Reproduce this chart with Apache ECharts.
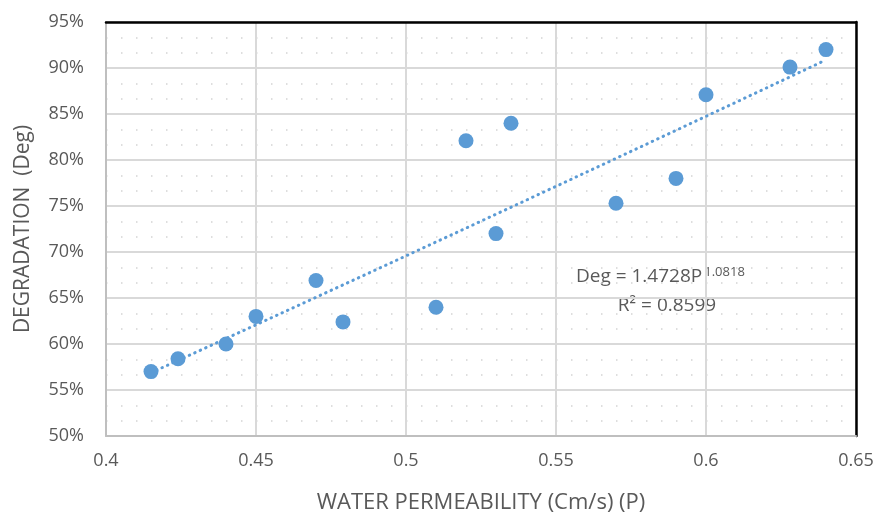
<!DOCTYPE html>
<html>
<head>
<meta charset="utf-8">
<script src="https://cdn.jsdelivr.net/npm/echarts@6/dist/echarts.min.js"></script>
<style>
  html, body { margin: 0; padding: 0; background: #ffffff; }
  #chart { width: 880px; height: 519px; }
</style>
</head>
<body>
<div id="chart"></div>
<script>
// Water permeability (cm/s) vs degradation (%)
const permeability = [0.415, 0.424, 0.44, 0.45, 0.47, 0.479, 0.51, 0.52, 0.53, 0.535, 0.57, 0.59, 0.60, 0.628, 0.64];
const degradation  = [57.0, 58.4, 60.0, 63.0, 66.9, 62.4, 64.0, 82.1, 72.0, 84.0, 75.3, 78.0, 87.1, 90.1, 92.0];

// Power trendline: Deg = a * P^b, with R²
const trendA = 1.4728;
const trendB = 1.0818;
const trendR2 = 0.8599;

const xTicks = { min: 0.4, max: 0.65, step: 0.05 };
const yTicks = { min: 50, max: 95, step: 5 };

const points = permeability.map((p, i) => [p, degradation[i]]);

// Trendline drawn from the stated fit, over the data's range
const pMin = Math.min(...permeability);
const pMax = Math.max(...permeability);
const trend = [];
for (let i = 0; i <= 40; i++) {
  const p = pMin + (pMax - pMin) * i / 40;
  trend.push([p, trendA * Math.pow(p, trendB) * 100]);
}

const textColor = '#595959';
const fontFamily = '"Open Sans", "Noto Sans", sans-serif';
const blue = '#5b9bd5';

const chart = echarts.init(document.getElementById('chart'), null, { renderer: 'canvas' });

chart.setOption({
  backgroundColor: '#ffffff',
  animation: false,
  grid: { left: 106, right: 24, top: 22, bottom: 81 },
  xAxis: [{
    type: 'value',
    min: xTicks.min, max: xTicks.max, interval: xTicks.step,
    name: 'WATER PERMEABILITY (Cm/s) (P)',
    nameLocation: 'middle',
    nameGap: 56,
    nameTextStyle: { color: textColor, fontSize: 22, fontFamily },
    axisLine: { show: true, lineStyle: { color: '#bfbfbf', width: 2 } },
    axisTick: { show: false },
    axisLabel: { color: textColor, fontSize: 18, fontFamily, margin: 16,
      formatter: v => String(Math.round(v * 100) / 100) },
    splitLine: { show: true, lineStyle: { color: '#d9d9d9', width: 2 } }
  }, {
    type: 'value', position: 'top',
    min: xTicks.min, max: xTicks.max, interval: xTicks.step,
    axisLine: { show: true, onZero: false, lineStyle: { color: '#000000', width: 2.5 } },
    axisTick: { show: false }, axisLabel: { show: false }, splitLine: { show: false }
  }],
  yAxis: [{
    type: 'value',
    min: yTicks.min, max: yTicks.max, interval: yTicks.step,
    name: 'DEGRADATION  (Deg)',
    nameLocation: 'middle',
    nameGap: 72,
    nameRotate: 90,
    nameTextStyle: { color: textColor, fontSize: 21, fontFamily },
    axisLine: { show: true, lineStyle: { color: '#bfbfbf', width: 2 } },
    axisTick: { show: false },
    axisLabel: { color: textColor, fontSize: 18, fontFamily, margin: 22, formatter: '{value}%' },
    splitLine: { show: true, lineStyle: { color: '#d9d9d9', width: 2 } },
    minorTick: { show: false, splitNumber: 3 },
    minorSplitLine: { show: true, lineStyle: { color: '#d4d4d4', width: 1.5, type: [1.5, 13.5] } }
  }, {
    type: 'value', position: 'right',
    min: yTicks.min, max: yTicks.max, interval: yTicks.step,
    axisLine: { show: true, onZero: false, lineStyle: { color: '#000000', width: 2.5 } },
    axisTick: { show: false }, axisLabel: { show: false }, splitLine: { show: false }
  }],
  series: [{
    name: 'Trend',
    type: 'line',
    data: trend,
    showSymbol: false,
    symbol: 'none',
    silent: true,
    z: 3,
    lineStyle: { color: blue, width: 3, type: [0.5, 5.5], cap: 'round' }
  }, {
    name: 'Degradation',
    type: 'scatter',
    data: points,
    symbol: 'circle',
    symbolSize: 15,
    z: 4,
    itemStyle: { color: blue, opacity: 1 }
  }],
  graphic: [{
    // fit equation, with the exponent raised
    type: 'text',
    x: 576, y: 277,
    style: {
      text: '{m|Deg = ' + trendA.toFixed(4) + 'P}{s|' + trendB.toFixed(4) + '}',
      align: 'left',
      verticalAlign: 'middle',
      rich: {
        m: { fontSize: 19, fontFamily, fill: textColor, color: textColor, lineHeight: 24 },
        s: { fontSize: 13, fontFamily, fill: textColor, color: textColor, lineHeight: 24, padding: [0, 0, 10, 2] }
      }
    }
  }, {
    type: 'text',
    x: 667, y: 306,
    style: {
      text: 'R² = ' + trendR2.toFixed(4),
      align: 'center',
      verticalAlign: 'middle',
      fontSize: 19,
      fontFamily,
      fill: textColor
    }
  }]
});
</script>
</body>
</html>
